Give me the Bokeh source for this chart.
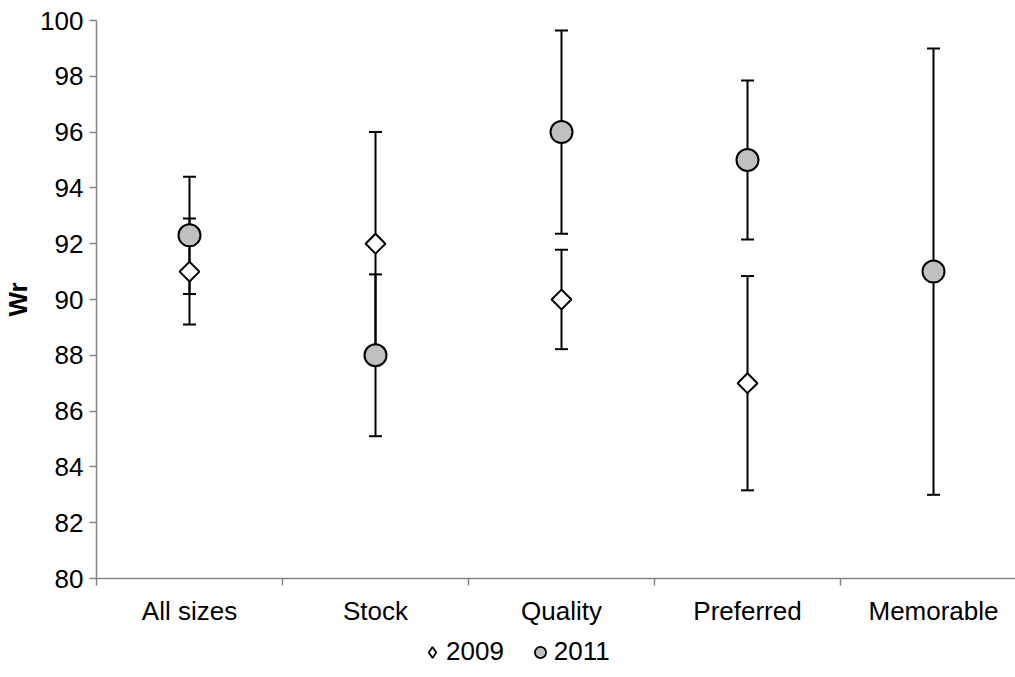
import numpy as np
from bokeh.plotting import figure
from bokeh.layouts import column
from bokeh.models import (ColumnDataSource, Range1d, FixedTicker, Whisker, TeeHead,
                          Legend, LegendItem)
from bokeh.embed import file_html
from bokeh.resources import INLINE

categories = ["All sizes", "Stock", "Quality", "Preferred", "Memorable"]
wr_2009 = [91.0, 92.0, 90.0, 87.0, np.nan]
err_2009 = [1.9, 4.0, 1.78, 3.84, np.nan]
wr_2011 = [92.3, 88.0, 96.0, 95.0, 91.0]
err_2011 = [2.1, 2.9, 3.64, 2.85, 8.0]
y_ticks = list(range(80, 101, 2))
series_names = ["2009", "2011"]

xpos = [i + 0.5 for i in range(len(categories))]

FONT = "Liberation Sans"
FS = "26px"
AX = "#868686"

p = figure(width=1015, height=630, output_backend="svg", toolbar_location=None,
           x_range=Range1d(0, (1015 - 96) / 186.0), y_range=Range1d(80, 100),
           min_border_left=96, min_border_right=0, min_border_top=20,
           min_border_bottom=52)
p.grid.visible = False
p.outline_line_color = None
p.background_fill_color = "white"
p.border_fill_color = "white"

# x axis
p.xaxis.ticker = FixedTicker(ticks=xpos, minor_ticks=[0, 1, 2, 3, 4])
p.xaxis.major_label_overrides = {x: c for x, c in zip(xpos, categories)}
p.xaxis.major_tick_line_color = None
p.xaxis.minor_tick_out = 7
p.xaxis.minor_tick_in = 0
p.xaxis.minor_tick_line_color = AX
p.xaxis.minor_tick_line_width = 1.5
p.xaxis.axis_line_color = AX
p.xaxis.axis_line_width = 1.5
p.xaxis.major_label_text_font = FONT
p.xaxis.major_label_text_font_size = FS
p.xaxis.major_label_text_color = "black"
p.xaxis.major_label_standoff = 10

# y axis
p.yaxis.ticker = FixedTicker(ticks=y_ticks)
p.yaxis.minor_tick_line_color = None
p.yaxis.major_tick_out = 7
p.yaxis.major_tick_in = 0
p.yaxis.major_tick_line_color = AX
p.yaxis.major_tick_line_width = 1.5
p.yaxis.axis_line_color = AX
p.yaxis.axis_line_width = 1.5
p.yaxis.major_label_text_font = FONT
p.yaxis.major_label_text_font_size = FS
p.yaxis.major_label_text_color = "black"
p.yaxis.major_label_standoff = 6
p.yaxis.axis_label = "Wr"
p.yaxis.axis_label_text_font = FONT
p.yaxis.axis_label_text_font_size = FS
p.yaxis.axis_label_text_font_style = "bold"
p.yaxis.axis_label_text_color = "black"
p.yaxis.axis_label_standoff = 4

lo09 = [v - e for v, e in zip(wr_2009, err_2009)]
hi09 = [v + e for v, e in zip(wr_2009, err_2009)]
lo11 = [v - e for v, e in zip(wr_2011, err_2011)]
hi11 = [v + e for v, e in zip(wr_2011, err_2011)]

s09 = ColumnDataSource(dict(x=xpos, y=wr_2009, lo=lo09, hi=hi09))
s11 = ColumnDataSource(dict(x=xpos, y=wr_2011, lo=lo11, hi=hi11))

for src in (s09, s11):
    w = Whisker(source=src, base="x", lower="lo", upper="hi",
                line_color="black", line_width=2,
                upper_head=TeeHead(size=13, line_color="black", line_width=2),
                lower_head=TeeHead(size=13, line_color="black", line_width=2))
    p.add_layout(w)

p.scatter("x", "y", source=s09, marker="square", size=14, angle=np.pi / 4,
          fill_color="white", line_color="black", line_width=2)
p.scatter("x", "y", source=s11, marker="circle", size=22,
          fill_color="#C0C0C0", line_color="black", line_width=2)

# legend strip below the chart
lf = figure(width=1015, height=47, output_backend="svg", toolbar_location=None,
            x_range=Range1d(0, 1), y_range=Range1d(0, 1),
            min_border_left=0, min_border_right=0, min_border_top=0,
            min_border_bottom=0)
lf.axis.visible = False
lf.grid.visible = False
lf.outline_line_color = None
lf.border_fill_color = "white"
lf.background_fill_color = "white"

# key renderers placed outside the visible range; only their legend glyphs show
d09 = lf.scatter(x=[-5], y=[-5], marker="diamond",
                 fill_color="white", line_color="black", line_width=1.8)
d11 = lf.scatter(x=[-5], y=[-5], marker="circle",
                 fill_color="#C0C0C0", line_color="black", line_width=1.8)

legend = Legend(items=[LegendItem(label=series_names[0], renderers=[d09]),
                       LegendItem(label=series_names[1], renderers=[d11])],
                orientation="horizontal", location=(322, 10),
                border_line_color=None, background_fill_alpha=0,
                label_text_font=FONT, label_text_font_size=FS,
                label_text_color="black",
                glyph_width=28, glyph_height=28, label_standoff=0,
                spacing=22, padding=0, margin=0)
lf.add_layout(legend, "center")

layout = column(p, lf, spacing=0)
open("out.html", "w").write(file_html(layout, INLINE))
